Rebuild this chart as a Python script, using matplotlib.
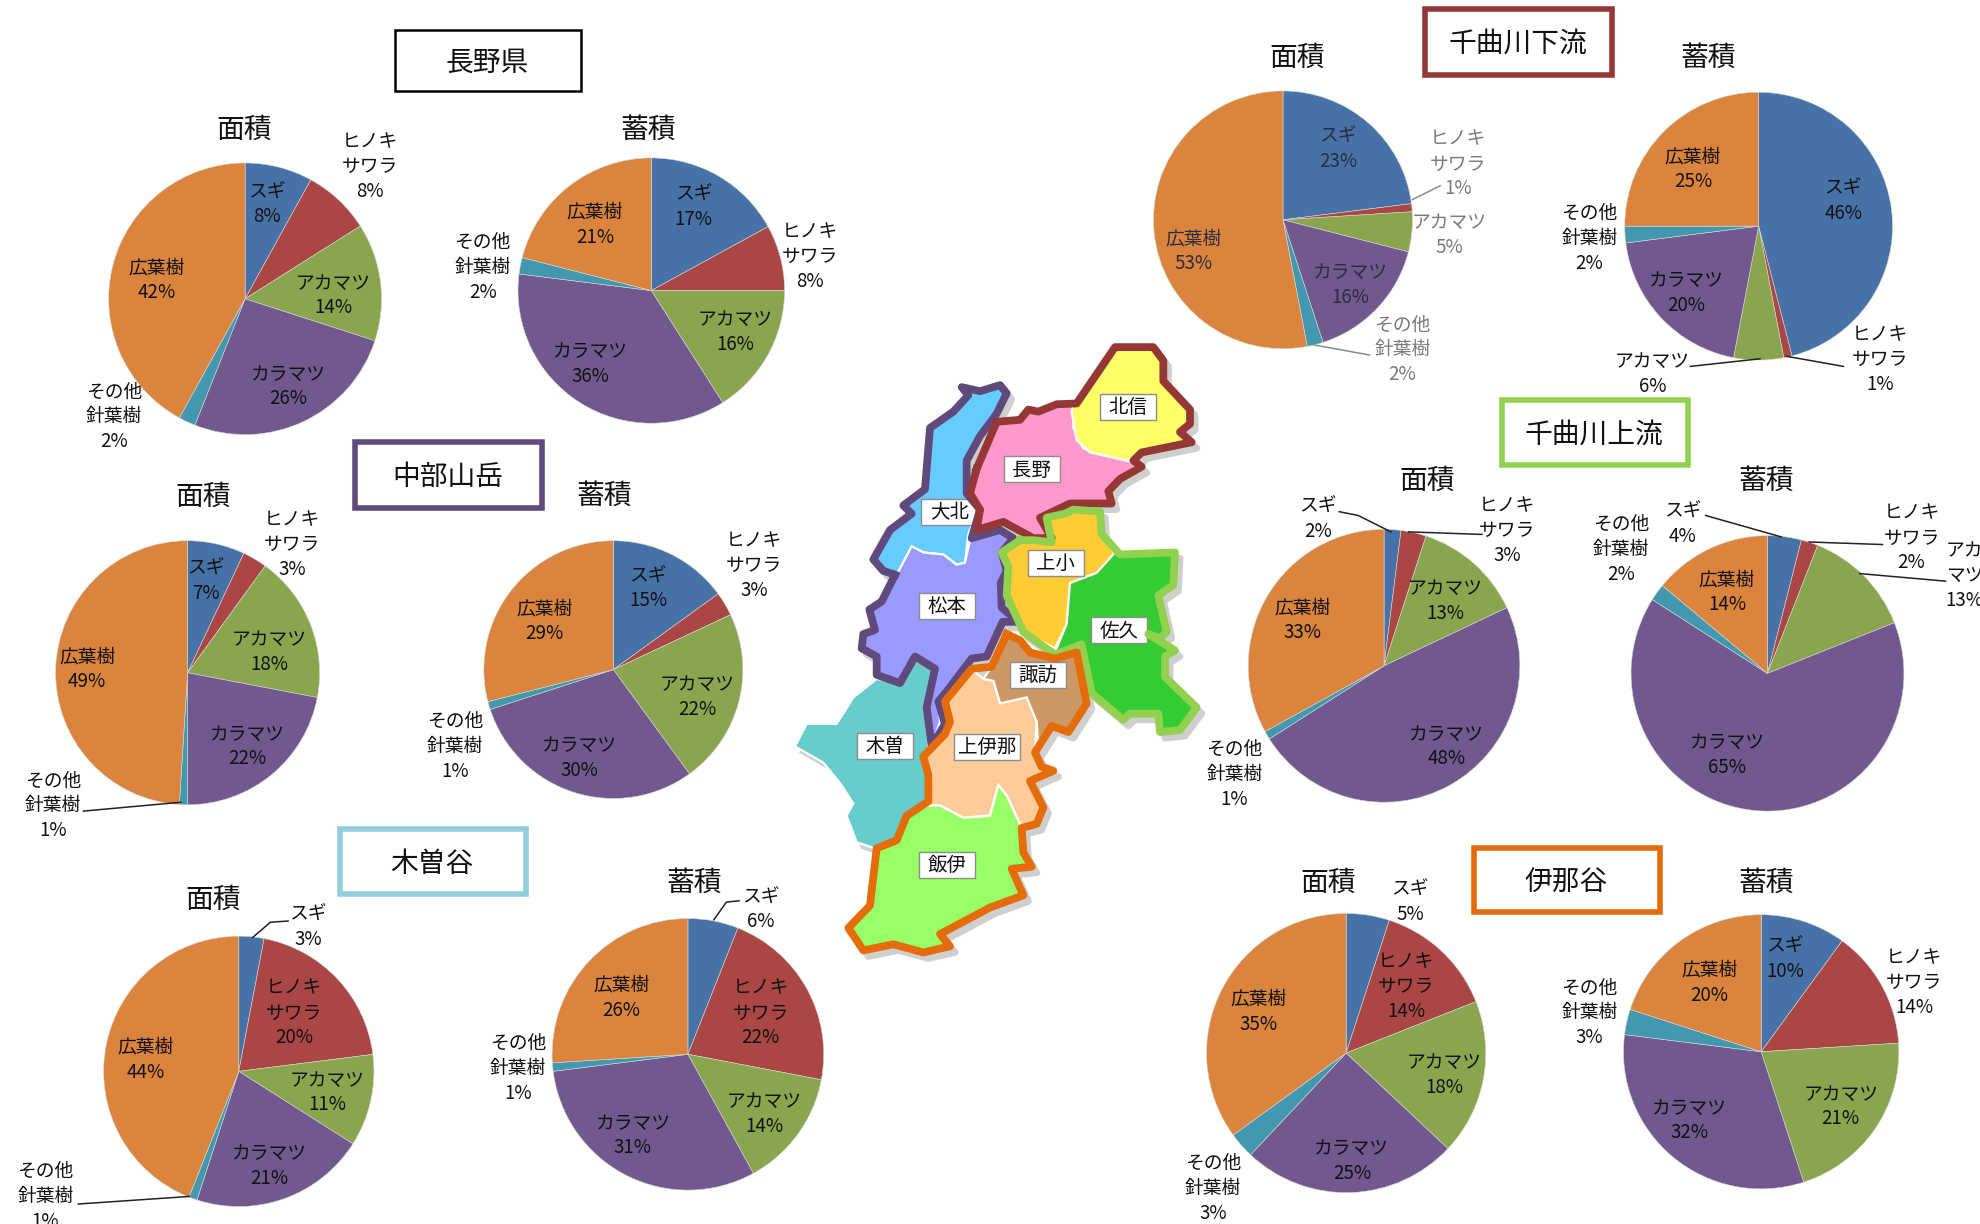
import matplotlib
matplotlib.use('Agg')
import matplotlib.pyplot as plt
from matplotlib.patches import Polygon, Rectangle

plt.rcParams['font.family'] = ['Noto Sans CJK JP', 'DejaVu Sans']

W, H = 1981, 1224
S = 1981 / 1568  # layout numbers below were read on the 1568-wide view

species = ['スギ', 'ヒノキ\nサワラ', 'アカマツ', 'カラマツ', 'その他\n針葉樹', '広葉樹']
colors = ['#4672A8', '#AA4644', '#89A54E', '#71588F', '#4198AF', '#DB843D']

nagano_area = [8, 8, 14, 26, 2, 42]
nagano_volume = [17, 8, 16, 36, 2, 21]
chubu_area = [7, 3, 18, 22, 1, 49]
chubu_volume = [15, 3, 22, 30, 1, 29]
kiso_area = [3, 20, 11, 21, 1, 44]
kiso_volume = [6, 22, 14, 31, 1, 26]
lower_area = [23, 1, 5, 16, 2, 53]
lower_volume = [46, 1, 6, 20, 2, 25]
upper_area = [2, 3, 13, 48, 1, 33]
upper_volume = [4, 2, 13, 65, 2, 14]
ina_area = [5, 14, 18, 25, 3, 35]
ina_volume = [10, 14, 21, 32, 3, 20]

AREA, VOL = '面積', '蓄積'

# values, bbox(l, r, t, b), label centres, leader lines, title pos
pies = [
    (nagano_area, (86, 302, 129, 344),
     [(211, 161), (293, 131), (264, 233), (228, 305), (90, 329), (124, 221)], [], (AREA, 193, 101)),
    (nagano_volume, (410, 621, 125, 335),
     [(549, 163), (641, 202), (582, 262), (467, 287), (382, 211), (471, 177)], [], (VOL, 513, 101)),
    (chubu_area, (44, 253, 428, 637),
     [(163, 459), (231, 430), (213, 515), (196, 590), (42, 637), (69, 529)],
     [[(66, 642), (143, 635)]], (AREA, 161, 392)),
    (chubu_volume, (383, 588, 428, 632),
     [(513, 465), (597, 447), (552, 551), (459, 599), (360, 590), (431, 491)], [], (VOL, 478, 391)),
    (kiso_area, (82, 296, 741, 955),
     [(244, 733), (233, 801), (259, 864), (213, 922), (36, 946), (115, 838)],
     [[(228, 729), (214, 730), (200, 742)], [(62, 953), (150, 947)]], (AREA, 169, 711)),
    (kiso_volume, (437, 652, 727, 942),
     [(602, 719), (602, 801), (605, 881), (501, 898), (410, 845), (492, 789)],
     [[(585, 713), (575, 714), (565, 728)]], (VOL, 549, 697)),
    (lower_area, (913, 1118, 72, 276),
     [(1059, 117), (1154, 129), (1147, 185), (1069, 225), (1110, 276), (945, 198)],
     [[(1140, 147), (1118, 158)], [(1040, 273), (1084, 281)]], (AREA, 1027, 44)),
    (lower_volume, (1286, 1498, 73, 285),
     [(1459, 158), (1488, 284), (1308, 295), (1335, 231), (1258, 188), (1340, 133)],
     [[(1414, 282), (1459, 290)], [(1338, 290), (1393, 284)]], (VOL, 1352, 44)),
    (upper_area, (988, 1203, 419, 635),
     [(1043, 410), (1193, 419), (1144, 475), (1145, 590), (977, 612), (1031, 490)],
     [[(1060, 405), (1075, 408), (1101, 421)], [(1173, 423), (1115, 421)]], (AREA, 1130, 379)),
    (upper_volume, (1291, 1507, 424, 642),
     [(1332, 414), (1513, 425), (1555, 455), (1367, 597), (1283, 434), (1367, 468)],
     [[(1350, 408), (1410, 425)], [(1490, 431), (1432, 429)], [(1540, 460), (1472, 454)]], (VOL, 1398, 379)),
    (ina_area, (955, 1176, 723, 944),
     [(1116, 713), (1113, 780), (1143, 850), (1070, 918), (960, 940), (996, 800)], [], (AREA, 1051, 697)),
    (ina_volume, (1285, 1503, 724, 941),
     [(1413, 758), (1515, 777), (1457, 875), (1337, 886), (1258, 801), (1353, 777)], [], (VOL, 1398, 697)),
]

boxes = [
    ('長野県', 313, 460, 24, 72, '#000000', 1.8),
    ('中部山岳', 281, 429, 350, 402, '#604A7B', 4.0),
    ('木曽谷', 269, 416, 656, 708, '#92CDDC', 4.0),
    ('千曲川下流', 1128, 1276, 7, 59, '#953735', 4.0),
    ('千曲川上流', 1189, 1336, 317, 368, '#92D050', 4.0),
    ('伊那谷', 1167, 1314, 671, 722, '#E46C0A', 4.0),
]

# ---- map outlines, in the coordinates of the enlarged map crop
regions = {
    '大北': ('#66CCFF', [(545,140),(600,140),(660,135),(680,155),(650,205),(600,260),(560,320),(560,400),(590,450),(565,500),(555,570),(530,575),(490,550),(430,545),(395,530),(350,600),(310,590),(280,562),(330,490),(395,450),(370,430),(435,390),(450,240),(520,200),(565,160)]),
    '松本': ('#9999FF', [(350,600),(395,530),(430,545),(490,550),(530,575),(555,570),(570,515),(660,490),(700,510),(670,545),(680,590),(662,620),(665,680),(715,715),(668,715),(620,800),(575,805),(505,880),(475,910),(480,960),(455,1020),(440,925),(465,830),(405,800),(360,865),(290,845),(290,800),(245,780),(250,745),(285,735),(268,685),(305,665)]),
    '木曽': ('#66CCCC', [(290,855),(360,865),(405,810),(465,830),(440,925),(445,1030),(440,1150),(380,1190),(350,1250),(285,1270),(230,1255),(200,1190),(220,1160),(180,1110),(130,1060),(45,1020),(80,965),(170,965),(220,900)]),
    '長野': ('#FF99CC', [(590,340),(650,225),(720,220),(745,195),(775,200),(830,182),(880,180),(880,240),(910,290),(1040,320),(1070,330),(985,390),(990,425),(870,425),(780,460),(815,510),(760,510),(670,470),(590,490),(600,440),(570,400)]),
    '北信': ('#FFFF66', [(880,180),(1005,42),(1120,42),(1150,75),(1150,125),(1230,195),(1230,230),(1200,250),(1235,275),(1085,300),(1040,320),(930,300),(890,270),(875,200)]),
    '上小': ('#FFCC33', [(720,515),(760,515),(815,520),(800,460),(855,450),(880,440),(960,445),(965,500),(1005,550),(950,595),(870,620),(860,720),(825,780),(730,740),(680,650),(685,580),(665,545)]),
    '佐久': ('#33CC33', [(1005,545),(1185,545),(1180,625),(1135,650),(1160,730),(1140,750),(1105,745),(1185,785),(1155,800),(1155,850),(1250,925),(1200,980),(1140,985),(1135,940),(1050,940),(1030,955),(935,890),(905,770),(825,790),(860,720),(870,620),(950,595)]),
    '諏訪': ('#CC9966', [(680,745),(720,760),(750,790),(825,805),(890,790),(920,915),(865,985),(815,970),(775,1020),(770,960),(740,910),(660,915),(640,860),(610,855),(635,825)]),
    '上伊那': ('#FFCC99', [(575,830),(610,855),(640,860),(660,915),(740,900),(770,960),(765,1035),(785,1070),(820,1080),(750,1105),(790,1170),(770,1210),(725,1220),(680,1140),(655,1115),(630,1190),(550,1195),(480,1165),(445,1165),(445,1090),(430,1045),(495,990),(510,960),(495,910)]),
    '飯伊': ('#99FF66', [(445,1165),(480,1165),(550,1195),(630,1190),(655,1115),(680,1140),(725,1220),(730,1280),(755,1315),(695,1320),(730,1385),(630,1415),(480,1480),(510,1510),(430,1525),(340,1505),(250,1520),(205,1465),(270,1410),(290,1270),(350,1250),(380,1190)]),
}
region_labels = {
    '北信': (1045, 188), '長野': (755, 341), '大北': (508, 445), '松本': (500, 675),
    '上小': (827, 570), '佐久': (1017, 736), '諏訪': (773, 845), '木曽': (315, 1018),
    '上伊那': (622, 1021), '飯伊': (500, 1310),
}
borders = [
    ('#604A7B', [(345,600),(310,590),(280,562),(330,490),(395,450),(370,430),(435,390),(450,240),(520,200),(565,160),(545,140),(600,150),(660,135),(680,155),(650,205),(600,260),(560,320),(560,400),(600,440),(575,510),(660,490),(700,510),(665,545),(680,590),(662,620),(665,680),(715,715),(668,715),(620,800),(575,805),(505,880),(475,910),(495,965),(455,1020),(440,925),(465,830),(405,800),(360,865),(290,845),(290,800),(245,780),(250,745),(285,735),(268,685),(305,665),(345,600)]),
    ('#953735', [(590,340),(650,225),(720,220),(745,195),(775,200),(830,182),(890,180),(1005,42),(1120,42),(1150,75),(1150,125),(1230,195),(1230,230),(1200,250),(1235,275),(1085,300),(1060,320),(1085,335),(1020,365),(985,395),(995,425),(870,425),(780,460),(815,510),(760,510),(670,470),(590,490),(600,440),(570,400),(590,340)]),
    ('#92D050', [(720,515),(760,515),(815,520),(800,460),(855,450),(880,440),(960,445),(965,500),(1020,550),(1185,545),(1180,625),(1135,650),(1160,740),(1140,755),(1105,745),(1185,785),(1155,800),(1155,850),(1250,925),(1200,980),(1140,985),(1135,940),(1050,940),(1030,955),(935,890),(905,770),(825,795),(730,740),(680,650),(685,580),(665,545),(720,515)]),
    ('#E46C0A', [(680,745),(720,760),(750,790),(825,805),(890,790),(920,915),(865,985),(815,970),(765,1035),(785,1070),(820,1080),(750,1105),(790,1170),(770,1210),(725,1220),(730,1280),(755,1315),(695,1320),(730,1385),(630,1415),(480,1480),(510,1510),(430,1525),(340,1505),(250,1520),(205,1465),(270,1410),(290,1270),(350,1250),(380,1190),(445,1155),(445,1090),(430,1045),(495,990),(510,960),(495,910),(575,830),(635,825),(680,745)]),
]


def mp(p):
    return (780 + p[0] / 3.0, 330 + p[1] / 2.45)


fig = plt.figure(figsize=(W / 100, H / 100), dpi=100, facecolor='white')

for values, (l, r, t, b), label_pos, leaders, title in pies:
    ax = fig.add_axes([l * S / W, 1 - b * S / H, (r - l) * S / W, (b - t) * S / H], zorder=1)
    ax.pie(values, colors=colors, startangle=90, counterclock=False, radius=1,
           wedgeprops={'linewidth': 0.4, 'edgecolor': '#d8d8d8'})
    ax.set_xlim(-1, 1)
    ax.set_ylim(-1, 1)
    ax.set_aspect('auto')

ov = fig.add_axes([0, 0, 1, 1], zorder=2)
ov.set_xlim(0, W)
ov.set_ylim(H, 0)
ov.axis('off')
ov.patch.set_alpha(0)

for values, bbox, label_pos, leaders, title in pies:
    faded = values is lower_area
    for i, (name, v, pos) in enumerate(zip(species, values, label_pos)):
        if values is upper_volume and i == 2:
            name = 'アカ\nマツ'
        col = '#111111'
        if faded:
            col = '#7a7a7a' if i in (1, 2, 4) else '#2c2c3c'
        ov.text(pos[0] * S, pos[1] * S + 1, f'{name}\n{v}%', ha='center', va='center',
                fontsize=13.5, color=col, linespacing=1.24, zorder=6)
    for line in leaders:
        ov.plot([p[0] * S for p in line], [p[1] * S for p in line],
                color='#8a8a8a' if faded else '#222222', lw=1.1, zorder=5)
    ov.text(title[1] * S, title[2] * S + 2, title[0], ha='center', va='center',
            fontsize=20, color='#111111', zorder=6)

for name, l, r, t, b, col, lw in boxes:
    ov.add_patch(Rectangle((l * S, t * S), (r - l) * S, (b - t) * S, fill=True, fc='white',
                           ec=col, lw=lw, zorder=4))
    ov.text((l + r) / 2 * S - 1, (t + b) / 2 * S + 2, name, ha='center', va='center',
            fontsize=20, color='#111111', zorder=6)

# map shadow
for name, (fc, pts) in regions.items():
    ov.add_patch(Polygon([(mp(p)[0] + 5, mp(p)[1] + 6) for p in pts], closed=True, fc='#c8c8c8',
                         ec='#c8c8c8', lw=1, zorder=2, alpha=0.8))
for col, pts in borders:
    ov.plot([mp(p)[0] + 5 for p in pts], [mp(p)[1] + 6 for p in pts], color='#cfcfcf', lw=5.0, zorder=2)

for name, (fc, pts) in regions.items():
    ov.add_patch(Polygon([mp(p) for p in pts], closed=True, fc=fc, ec='white', lw=1.6, zorder=3))

for name, (cx, cy) in region_labels.items():
    x, y = mp((cx, cy))
    hw = 33 if len(name) == 3 else 28
    ov.add_patch(Rectangle((x - hw, y - 13), hw * 2, 26, fc='white', ec='#8c8c8c', lw=1.0, zorder=3.5))
    ov.text(x, y + 1, name, ha='center', va='center', fontsize=14, color='#111111', zorder=3.6)

for col, pts in borders:
    ov.plot([mp(p)[0] for p in pts], [mp(p)[1] for p in pts], color=col, lw=5.6,
            solid_joinstyle='round', zorder=4)

fig.savefig('out.png', dpi=100, facecolor='white')
